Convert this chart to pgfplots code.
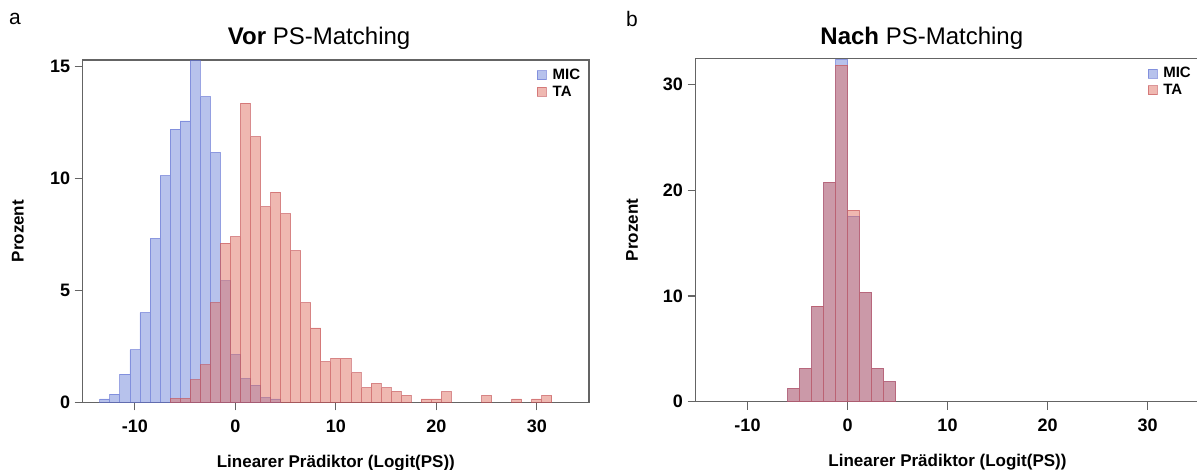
\documentclass[border=0pt]{standalone}
\usepackage{fontspec}
\setmainfont{Liberation Sans}
\usepackage{pgfplots}
\pgfplotsset{compat=1.18}

\definecolor{micfill}{RGB}{112,134,218}
\definecolor{micdraw}{RGB}{95,110,210}
\definecolor{tafill}{RGB}{224,114,100}
\definecolor{tadraw}{RGB}{195,80,85}
\definecolor{axgray}{RGB}{100,100,100}

\newcommand{\fs}[1]{\fontsize{#1}{#1}\selectfont}

\pgfplotsset{
  histo/.style={
    scale only axis, anchor=south west,
    ybar, bar shift=0pt,
    xmin=-15.2, xmax=35.2, ymin=0,
    xtick={-10,0,10,20,30},
    axis line style={axgray, line width=1.1pt},
    every tick/.style={axgray, line width=1.1pt},
    tick align=outside, major tick length=8pt,
    xtick pos=bottom, ytick pos=left,
    /pgf/number format/assume math mode=true,
    ticklabel style={font=\bfseries\fs{18}},
    xticklabel style={yshift=-6pt},
    yticklabel style={xshift=-1pt},
    xlabel={Linearer Prädiktor (Logit(PS))},
    ylabel={Prozent},
    label style={font=\bfseries\fs{17}},
    title style={font=\fs{24}, anchor=center},
    legend style={draw=none, fill=none, font=\bfseries\fs{15},
      anchor=north east, inner sep=0pt, row sep=1pt,
      legend cell align=left,
      /tikz/every odd column/.append style={column sep=4pt}},
  },
  legsq/.style={legend image code/.code={\draw[##1, line width=0.6pt] (0pt,-4.5pt) rectangle (9pt,4.5pt);}},
  mic/.style={fill=micfill, fill opacity=0.5, draw=micdraw, draw opacity=0.6, line width=0.8pt, legsq},
  ta/.style={fill=tafill, fill opacity=0.5, draw=tadraw, draw opacity=0.6, line width=0.8pt, legsq},
}

\begin{document}
\begin{tikzpicture}[x=1pt,y=1pt]
\useasboundingbox (0,0) rectangle (1197,469);

\node[anchor=center, font=\fs{21}] at (15,450) {a};
\node[anchor=center, font=\fs{21}] at (632,450) {b};

% panel a
\begin{axis}[histo,
  at={(82.7pt,66.7pt)}, width=506.3pt, height=342.3pt,
  ymax=15.28, ytick={0,5,10,15},
  bar width=1,
  title={\textbf{Vor} PS-Matching},
  title style={at={(axis description cs:0.467,1.045)}},
  xlabel style={at={(axis description cs:0.5,-0.177)}, anchor=center},
  ylabel style={at={(axis description cs:-0.128,0.5)}, anchor=center},
  legend style={at={(axis description cs:0.987,0.98)}},
]
\addplot[mic] coordinates {
(-13,0.15) (-12,0.37) (-11,1.26) (-10,2.34) (-9,4.00) (-8,7.32)
(-7,10.12) (-6,12.19) (-5,12.56) (-4,15.25) (-3,13.65) (-2,11.16)
(-1,5.42) (0,2.14) (1,1.07) (2,0.77) (3,0.22) (4,0.15)};
\addlegendentry{MIC}
\addplot[ta] coordinates {
(-6,0.18) (-5,0.18) (-4,1.00) (-3,1.67) (-2,4.45) (-1,7.10) (0,7.40)
(1,13.35) (2,11.86) (3,8.73) (4,9.38) (5,8.42) (6,6.77) (7,4.45)
(8,3.32) (9,1.82) (10,1.96) (11,1.96) (12,1.32) (13,0.66) (14,0.84)
(15,0.65) (16,0.49) (17,0.31) (19,0.15) (20,0.15) (21,0.48)
(25,0.31) (28,0.15) (30,0.15) (31,0.31)};
\addlegendentry{TA}
\end{axis}

% panel b
\begin{axis}[histo,
  at={(695.5pt,67.3pt)}, width=504pt, height=343.4pt,
  ymax=32.5, ytick={0,10,20,30},
  bar width=1.2,
  title={\textbf{Nach} PS-Matching},
  title style={at={(axis description cs:0.449,1.04)}},
  xlabel style={at={(axis description cs:0.5,-0.177)}, anchor=center},
  ylabel style={at={(axis description cs:-0.126,0.5)}, anchor=center},
  legend style={at={(axis description cs:0.987,0.98)}},
]
\addplot[mic] coordinates {
(-5.4,1.26) (-4.2,3.15) (-3.0,9.05) (-1.8,20.76) (-0.6,32.4)
(0.6,17.57) (1.8,10.35) (3.0,3.15) (4.2,1.90)};
\addlegendentry{MIC}
\addplot[ta] coordinates {
(-5.4,1.26) (-4.2,3.15) (-3.0,9.05) (-1.8,20.76) (-0.6,31.86)
(0.6,18.14) (1.8,10.35) (3.0,3.15) (4.2,1.90)};
\addlegendentry{TA}
\end{axis}
\end{tikzpicture}
\end{document}
